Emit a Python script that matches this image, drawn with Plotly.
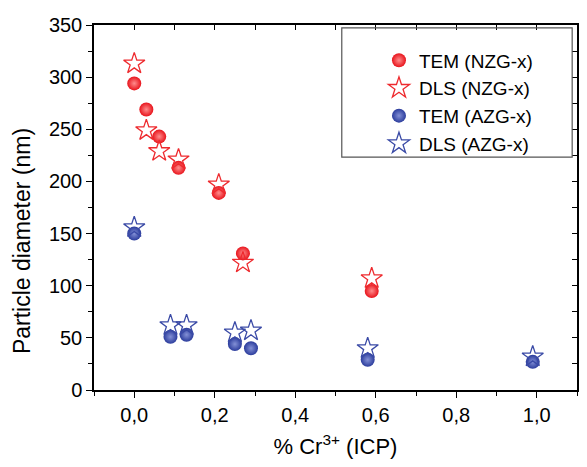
import plotly.graph_objects as go

# NZG-x samples
nzg_tem_x = [0.0, 0.03, 0.062, 0.11, 0.21, 0.27, 0.59]
nzg_tem_y = [294, 269, 243, 213, 189, 131, 95]
nzg_dls_x = [0.0, 0.03, 0.062, 0.11, 0.21, 0.27, 0.59]
nzg_dls_y = [313, 249, 229, 221, 197, 122, 107]

# AZG-x samples
azg_tem_x = [0.0, 0.09, 0.13, 0.25, 0.29, 0.58, 0.99]
azg_tem_y = [150, 51, 53, 44, 40, 29, 27]
azg_dls_x = [0.0, 0.09, 0.13, 0.25, 0.29, 0.58, 0.99]
azg_dls_y = [156, 62, 62, 55, 57, 40, 32]

x_ticks = [0.0, 0.2, 0.4, 0.6, 0.8, 1.0]
y_ticks = [0, 50, 100, 150, 200, 250, 300, 350]

RED = '#e8141c'
BLUE = '#2b3c9c'
FONT = 'Liberation Sans, Arial, sans-serif'

fig = go.Figure()

fig.add_trace(go.Scatter(
    x=nzg_tem_x, y=nzg_tem_y, mode='markers', name='TEM (NZG-x)',
    marker=dict(symbol='circle', size=14, color=RED, line=dict(width=0),
                gradient=dict(type='radial', color='#ff8c8c'))
))
fig.add_trace(go.Scatter(
    x=nzg_dls_x, y=nzg_dls_y, mode='markers', name='DLS (NZG-x)',
    marker=dict(symbol='star-open', size=16, color='#ee2a2e', line=dict(width=1.3))
))
fig.add_trace(go.Scatter(
    x=azg_tem_x, y=azg_tem_y, mode='markers', name='TEM (AZG-x)',
    marker=dict(symbol='circle', size=14, color=BLUE, line=dict(width=0),
                gradient=dict(type='radial', color='#8390d6'))
))
fig.add_trace(go.Scatter(
    x=azg_dls_x, y=azg_dls_y, mode='markers', name='DLS (AZG-x)',
    marker=dict(symbol='star-open', size=16, color='#3a4aa6', line=dict(width=1.3))
))
# invisible trace so the mirrored top/right axes are drawn
fig.add_trace(go.Scatter(x=[0.5], y=[100], xaxis='x2', yaxis='y2',
                         mode='markers', marker=dict(opacity=0),
                         showlegend=False, hoverinfo='skip'))

line_style = dict(showgrid=False, zeroline=False, showline=True,
                  linecolor='black', linewidth=1.5,
                  tickcolor='black', tickwidth=1.3, automargin=False)
tick_font = dict(family=FONT, size=20, color='black')

# page body has an 8px margin; keep the figure small enough to avoid scrollbars
fig.update_layout(
    width=571, height=451,
    margin=dict(l=86, r=2, t=17, b=69),
    plot_bgcolor='white', paper_bgcolor='white',
    separators=',.',
    font=dict(family=FONT, color='black'),
    xaxis=dict(range=[-0.1, 1.1], tickvals=x_ticks, tickformat='.1f',
               ticks='outside', ticklen=6, tickfont=tick_font,
               minor=dict(dtick=0.1, tick0=0, ticks='outside', ticklen=4,
                          tickcolor='black', tickwidth=1.3),
               title=dict(text='% Cr<sup>3+</sup> (ICP)',
                          font=dict(family=FONT, size=22), standoff=18),
               **line_style),
    yaxis=dict(range=[0, 350], tickvals=y_ticks,
               ticks='outside', ticklen=6, tickfont=tick_font,
               minor=dict(dtick=25, tick0=0, ticks='outside', ticklen=4,
                          tickcolor='black', tickwidth=1.3),
               **line_style),
    xaxis2=dict(range=[-0.1, 1.1], overlaying='x', side='top', anchor='y',
                dtick=0.1, tick0=0, ticks='inside', ticklen=5,
                showticklabels=False, **line_style),
    yaxis2=dict(range=[0, 350], overlaying='y', side='right', anchor='x',
                dtick=25, tick0=0, ticks='inside', ticklen=5,
                showticklabels=False, **line_style),
    legend=dict(x=0.59, y=0.955, xanchor='left', yanchor='top',
                bgcolor='rgba(0,0,0,0)', borderwidth=0,
                font=dict(family=FONT, size=19, color='black'),
                itemsizing='trace', tracegroupgap=0),
    shapes=[dict(type='rect', xref='paper', yref='paper',
                 x0=0.513, x1=0.99, y0=0.638, y1=0.992,
                 line=dict(color='#555555', width=1.2), fillcolor='rgba(0,0,0,0)')],
    annotations=[dict(text='Particle diameter (nm)', textangle=-90,
                      xref='paper', yref='paper', x=-0.149, y=0.408,
                      xanchor='center', yanchor='middle', showarrow=False,
                      font=dict(family=FONT, size=23, color='black'))],
    showlegend=True,
)

fig.write_html("out.html")
